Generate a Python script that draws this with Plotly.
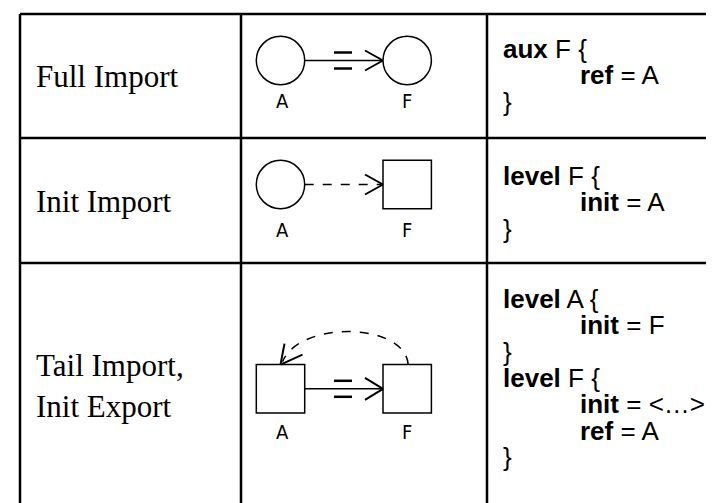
import plotly.graph_objects as go

# ---- content ----
row_labels = [["Full Import"], ["Init Import"], ["Tail Import,", "Init Export"]]
node_labels = ["A", "F"]
code_row1 = [("aux", " F {", 0), ("ref", " = A", 1), ("", "}", 0)]
code_row2 = [("level", " F {", 0), ("init", " = A", 1), ("", "}", 0)]
code_row3 = [("level", " A {", 0), ("init", " = F", 1), ("", "}", 0),
             ("level", " F {", 0), ("init", " = <…>", 1), ("ref", " = A", 1), ("", "}", 0)]
code_rows = [code_row1, code_row2, code_row3]

W, H = 714, 503
# table geometry (table continues past the right and bottom edges)
X0, X1, X2, X3 = 12, 233, 479, W + 5
Y0, Y1, Y2, Y3 = 6, 130, 255, H + 5

shapes = []
def line(x0, y0, x1, y1, w=1.5, dash="solid"):
    shapes.append(dict(type="line", x0=x0, y0=y0, x1=x1, y1=y1, xref="x", yref="y",
                       line=dict(color="black", width=w, dash=dash)))

# borders
for x in (X0, X1, X2):
    line(x, Y0, x, Y3, 2.5)
for y in (Y0, Y1, Y2):
    line(X0, y, X3, y, 2.5)

def circle(cx, cy, r):
    shapes.append(dict(type="circle", x0=cx - r, x1=cx + r, y0=cy - r, y1=cy + r,
                       xref="x", yref="y", line=dict(color="black", width=1.5)))

def square(x0, y0, x1, y1):
    shapes.append(dict(type="rect", x0=x0, x1=x1, y0=y0, y1=y1,
                       xref="x", yref="y", line=dict(color="black", width=1.5)))

def vhead(tx, ty, dx=-18, dy=10):
    line(tx + dx, ty - dy, tx, ty, 2)
    line(tx + dx, ty + dy, tx, ty, 2)

def equals(cx, cy):
    line(cx - 9, cy - 8, cx + 9, cy - 8, 2.5)
    line(cx - 9, cy + 8, cx + 9, cy + 8, 2.5)

AX, FX = 272.5, 399.2
R = 24.2
# row 1
c1 = 52.5
circle(AX, c1, R)
circle(FX, c1, R)
line(AX + R, c1, FX - R, c1, 1.6)
vhead(FX - R, c1)
equals(335, c1)
# row 2
c2 = 176.5
circle(AX, c2, R)
square(FX - R, c2 - R, FX + R, c2 + R)
line(AX + R, c2, FX - R - 2, c2, 1.6, "dash")
vhead(FX - R, c2)
# row 3
c3 = 380.8
square(AX - R, c3 - R, AX + R, c3 + R)
square(FX - R, c3 - R, FX + R, c3 + R)
line(AX + R, c3, FX - R, c3, 1.6)
vhead(FX - R, c3, dy=11)
equals(335, c3)
# curved dashed arc from F top to A top
shapes.append(dict(type="path", xref="x", yref="y",
                   path=f"M {FX+1},{c3-R} C {FX-2},{c3-R-42} {AX+20},{c3-R-45} {AX+2},{c3-R-3}",
                   line=dict(color="black", width=1.5, dash="dash")))
line(AX + 4, c3 - R - 21, AX, c3 - R, 2)
line(AX + 22, c3 - R - 10, AX, c3 - R, 2)

annotations = []
def text(x, y, s, size, family, xanchor="left"):
    annotations.append(dict(x=x, y=y, xref="x", yref="y", text=s, showarrow=False,
                            xanchor=xanchor, yanchor="middle",
                            font=dict(size=size, family=family, color="black")))

SERIF = "Liberation Serif, Times New Roman, serif"
SANS = "Liberation Sans, Arial, sans-serif"
COND = "DejaVu Sans Condensed, Liberation Sans Narrow, sans-serif"

# row labels
label_y = [[68], [193], [357, 398]]
for lines, ys in zip(row_labels, label_y):
    for s, y in zip(lines, ys):
        text(26, y, s, 31, SERIF)

# node labels
for cy in (c1 + 40, c2 + 45, c3 + 43):
    text(AX + 2, cy, node_labels[0], 20, COND, "center")
    text(FX, cy, node_labels[1], 20, COND, "center")

# code
first_base = [50, 177, 300]
step = 26.3
for rows, b0 in zip(code_rows, first_base):
    for i, (kw, rest, ind) in enumerate(rows):
        base = b0 + i * step
        s = (f"<b>{kw}</b>" if kw else "") + rest
        text(570 if ind else 493, base - 9, s, 26, SANS)

fig = go.Figure()
fig.update_layout(width=W, height=H, margin=dict(l=0, r=0, t=0, b=0),
                  paper_bgcolor="white", plot_bgcolor="white",
                  xaxis=dict(range=[0, W], visible=False, fixedrange=True),
                  yaxis=dict(range=[H, 0], visible=False, fixedrange=True),
                  shapes=shapes, annotations=annotations, showlegend=False)
fig.write_html("out.html")
